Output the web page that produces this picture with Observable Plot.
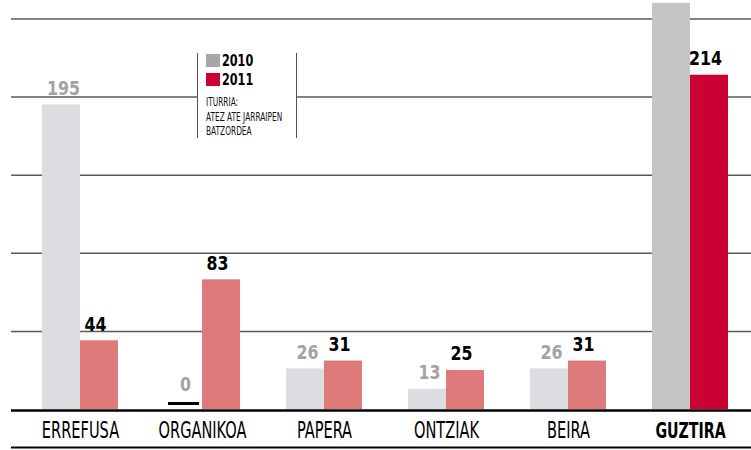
<!DOCTYPE html>
<html><head><meta charset="utf-8">
<script src="https://cdn.jsdelivr.net/npm/d3@7"></script>
<script src="https://cdn.jsdelivr.net/npm/@observablehq/plot@0.6"></script>
<style>
body{margin:0;background:#fff;}
#wrap{position:relative;width:751px;height:450px;font-family:"DejaVu Sans Condensed","Liberation Sans Narrow","Roboto",sans-serif;}
#legend{position:absolute;left:197px;top:53px;width:100px;height:85px;border-left:1px solid #555;border-right:1px solid #555;background:#fff;box-sizing:border-box;padding:1px 0 0 8px;}
.key{height:19px;line-height:13px;font-weight:bold;font-size:16px;color:#000;display:flex;align-items:flex-start;white-space:nowrap;}
.key .lab{display:inline-block;transform:scaleX(0.78);transform-origin:0 50%;}
.sw{display:inline-block;width:14px;height:13px;margin-right:2px;}
.src{margin-top:3px;font-size:12.5px;line-height:14.5px;color:#111;white-space:nowrap;transform:scaleX(0.66);transform-origin:0 0;}
</style></head>
<body>
<div id="wrap">
  <div id="chart"></div>
  <div id="legend"></div>
</div>
<script>
const categories = ["ERREFUSA","ORGANIKOA","PAPERA","ONTZIAK","BEIRA","GUZTIRA"];
const values2010 = [195, 0, 26, 13, 26, 260];
const values2011 = [44, 83, 31, 25, 31, 214];
const shownLabel2010 = [true, true, true, true, true, false];
const gridTicks = [50, 100, 150, 200, 250];
const seriesNames = ["2010", "2011"];
const sourceLines = ["ITURRIA:", "ATEZ ATE JARRAIPEN", "BATZORDEA"];

const d2010 = categories.map((c, i) => ({cat: c, v: values2010[i], show: shownLabel2010[i]}));
const d2011 = categories.map((c, i) => ({cat: c, v: values2011[i]}));
const total = "GUZTIRA";
const font = '"DejaVu Sans Condensed","Liberation Sans Narrow","Roboto",sans-serif';

const plot = Plot.plot({
  width: 751,
  height: 450,
  marginLeft: 11,
  marginRight: 0,
  marginTop: 18.5,
  marginBottom: 41,
  style: {fontFamily: font, background: "#fff", overflow: "visible"},
  x: {domain: categories, paddingInner: 0.377, paddingOuter: 0.2213, align: 0.574, round: false, axis: null},
  y: {domain: [0, 250], axis: null},
  marks: [
    Plot.ruleY(gridTicks, {stroke: "#5a5a5a", strokeWidth: 1.5}),
    Plot.barY(d2010, {filter: d => d.cat !== total, x: "cat", y: "v", fill: "#dcdde0", insetRight: 38}),
    Plot.barY(d2010, {filter: d => d.cat === total, x: "cat", y: "v", fill: "#c4c5c7", insetRight: 38}),
    Plot.barY(d2011, {filter: d => d.cat !== total, x: "cat", y: "v", fill: "#df7a7a", insetLeft: 38}),
    Plot.barY(d2011, {filter: d => d.cat === total, x: "cat", y: "v", fill: "#cc0033", insetLeft: 38}),
    Plot.tickY(d2010, {filter: d => d.v === 0, x: "cat", y: "v", stroke: "#000", strokeWidth: 3, dy: -6, insetLeft: 4, insetRight: 41}),
    Plot.ruleY([0], {stroke: "#000", strokeWidth: 2.5, dy: 1}),
    Plot.text(d2010, {filter: d => d.show && d.v !== 0, x: "cat", y: "v", text: d => String(d.v), dx: -17, dy: -10, lineAnchor: "bottom", fill: "#a3a3a3", fontWeight: "bold", fontSize: 20}),
    Plot.text(d2010, {filter: d => d.show && d.v === 0, x: "cat", y: "v", text: d => String(d.v), dx: -17, dy: -19, lineAnchor: "bottom", fill: "#a3a3a3", fontWeight: "bold", fontSize: 20}),
    Plot.text(d2011, {x: "cat", y: "v", text: d => String(d.v), dx: 15, dy: -10, lineAnchor: "bottom", fill: "#000", fontWeight: "bold", fontSize: 20}),
    Plot.text(categories.filter(c => c !== total), {x: d => d, frameAnchor: "bottom", dy: 28, lineAnchor: "bottom", text: d => d, fill: "#000", fontSize: 22.5}),
    Plot.text(categories.filter(c => c === total), {x: d => d, frameAnchor: "bottom", dy: 28, lineAnchor: "bottom", text: d => d, fill: "#000", fontSize: 21, fontWeight: "bold"})
  ]
});
document.getElementById("chart").appendChild(plot);

// bottom rule under category labels
d3.select(plot).append("line")
  .attr("x1", 11).attr("x2", 751).attr("y1", 447.5).attr("y2", 447.5)
  .attr("stroke", "#000").attr("stroke-width", 2);

// condense labels
const catSet = new Set(categories);
d3.select(plot).selectAll("text").each(function() {
  const t = this.textContent;
  const w = this.getComputedTextLength();
  const f = t === total ? 0.75 : catSet.has(t) ? 0.72 : 0.88;
  this.setAttribute("textLength", (w * f).toFixed(1));
  this.setAttribute("lengthAdjust", "spacingAndGlyphs");
});

// legend
const legend = d3.select("#legend");
const keyColors = ["#a7a7a7", "#cc0033"];
seriesNames.forEach((s, i) => {
  const row = legend.append("div").attr("class", "key");
  row.append("span").attr("class", "sw").style("background", keyColors[i]);
  row.append("span").attr("class", "lab").text(s);
});
legend.append("div").attr("class", "src").html(sourceLines.join("<br>"));
</script>
</body></html>
